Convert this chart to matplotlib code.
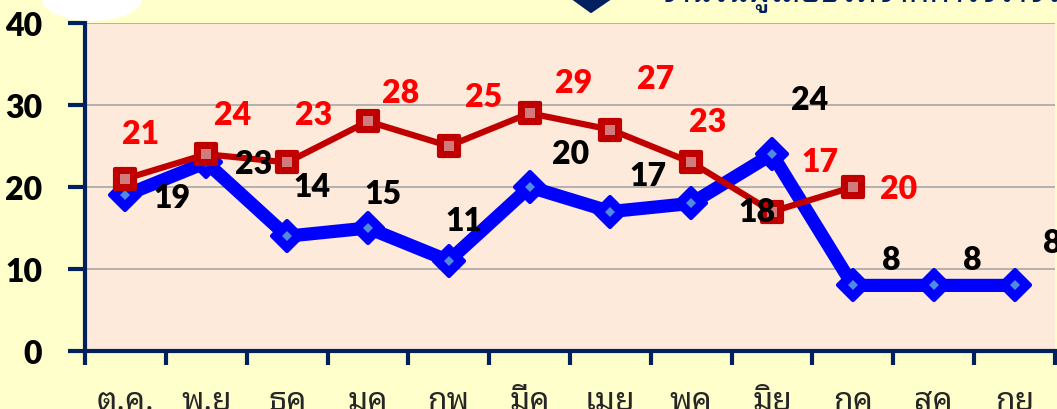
import matplotlib
matplotlib.use("Agg")
import matplotlib.pyplot as plt
from matplotlib.markers import MarkerStyle
from matplotlib.patches import Ellipse, Polygon
import numpy as np

# ---- data ----
months = ["ต.ค.", "พ.ย", "ธค", "มค", "กพ", "มีค", "เมย", "พค", "มิย", "กค", "สค", "กย"]
blue_values = [19, 23, 14, 15, 11, 20, 17, 18, 24, 8, 8, 8]
red_values = [21, 24, 23, 28, 25, 29, 27, 23, 17, 20]
y_ticks = [0, 10, 20, 30, 40]
title_text = "จำนวนผู้เสียชีวิตจากการจราจร"

# label offsets (pixels, dx right, dy down) relative to each point
blue_offsets = [(47, 2), (47, 1), (25, -50), (15, -34), (15, -40), (41, -33),
                (38, -36), (66, 8), (38, -55), (38, -26), (39, -26), (38, -43)]
red_offsets = [(15, -45), (26, -40), (27, -48), (33, -29), (35, -49), (44, -31),
               (45, -51), (16, -41), (48, -50), (46, 2)]

W, H = 1057, 410
BG = "#FFFFCC"
PLOT_BG = "#FDEADA"
NAVY = "#002060"
THAI = ["Noto Sans Thai Looped", "DejaVu Sans"]
NUM = ["Lato", "DejaVu Sans"]
NUM_SIZE = 23

fig = plt.figure(figsize=(W / 100, H / 100), dpi=100, facecolor=BG)
ax = fig.add_axes([85 / W, 1 - 352 / H, 970 / W, 328 / H])
ax.set_facecolor(PLOT_BG)
ax.set_xlim(-0.5, 11.5)
ax.set_ylim(0, 40)

# decorations cut off at the top of the image
fig.patches.append(Ellipse((92 / W, 1.0), 100 / W, 44 / H, transform=fig.transFigure,
                           facecolor="white", edgecolor="none", zorder=0))
fig.patches.append(Polygon([(573 / W, 1.0), (591 / W, 1 - 13 / H), (610 / W, 1.0)],
                           closed=True, transform=fig.transFigure,
                           facecolor=NAVY, edgecolor=NAVY, lw=1.5, joinstyle="round", zorder=1))
fig.text(660 / W, 1 - 2 / H, title_text, va="baseline", ha="left", fontsize=24,
         fontweight="bold", color=NAVY, family=THAI)

# grid and spines
ax.set_yticks(y_ticks)
ax.yaxis.grid(True, color="#A6A6A6", lw=1.2)
ax.set_axisbelow(True)
for s in ["top", "right"]:
    ax.spines[s].set_visible(False)
for s in ["left", "bottom"]:
    ax.spines[s].set_color(NAVY)
    ax.spines[s].set_linewidth(3)
    ax.spines[s].set_zorder(5)

ax.set_xticks(np.arange(-0.5, 12, 1))
ax.set_xticklabels([])
ax.set_xticks(np.arange(12), minor=True)
ax.set_xticklabels(months, minor=True, fontsize=23, color="#262626", family=THAI)
ax.tick_params(axis="x", which="major", length=10, width=3, color=NAVY, direction="out")
ax.tick_params(axis="x", which="minor", length=0, pad=24)
ax.tick_params(axis="y", length=12, width=3, color=NAVY, direction="out", pad=19)
ax.set_yticklabels([str(v) for v in y_ticks], fontsize=NUM_SIZE, fontweight="heavy",
                   family=NUM, color="black")

xb = np.arange(len(blue_values))
xr = np.arange(len(red_values))

ax.plot(xb, blue_values, color="#0000FF", lw=9.5, solid_joinstyle="round",
        marker=MarkerStyle("D", joinstyle="round"), ms=15, mec="#0000FF", mew=3,
        zorder=3, clip_on=False)
ax.plot(xb, blue_values, ls="none", marker="D", ms=5, color="#4F8BE0", mew=0,
        zorder=3.5, clip_on=False)
ax.plot(xr, red_values, color="#C00000", lw=4.5, solid_joinstyle="round",
        marker=MarkerStyle("s", joinstyle="round"), ms=15, mec="#C00000", mew=3,
        zorder=4, clip_on=False)
ax.plot(xr, red_values, ls="none", marker="s", ms=6.5, color="#D07C7C", mew=0,
        zorder=4.5, clip_on=False)

px2pt = 0.72
for xi, v, (dx, dy) in zip(xb, blue_values, blue_offsets):
    ax.annotate(str(v), (xi, v), xytext=(dx * px2pt, -dy * px2pt), textcoords="offset points",
                ha="center", va="center", fontsize=NUM_SIZE, fontweight="heavy", color="black",
                family=NUM, zorder=6, annotation_clip=False)
for xi, v, (dx, dy) in zip(xr, red_values, red_offsets):
    ax.annotate(str(v), (xi, v), xytext=(dx * px2pt, -dy * px2pt), textcoords="offset points",
                ha="center", va="center", fontsize=NUM_SIZE, fontweight="heavy", color="#FF0000",
                family=NUM, zorder=6, annotation_clip=False)

fig.savefig("out.png", dpi=100, facecolor=BG)
